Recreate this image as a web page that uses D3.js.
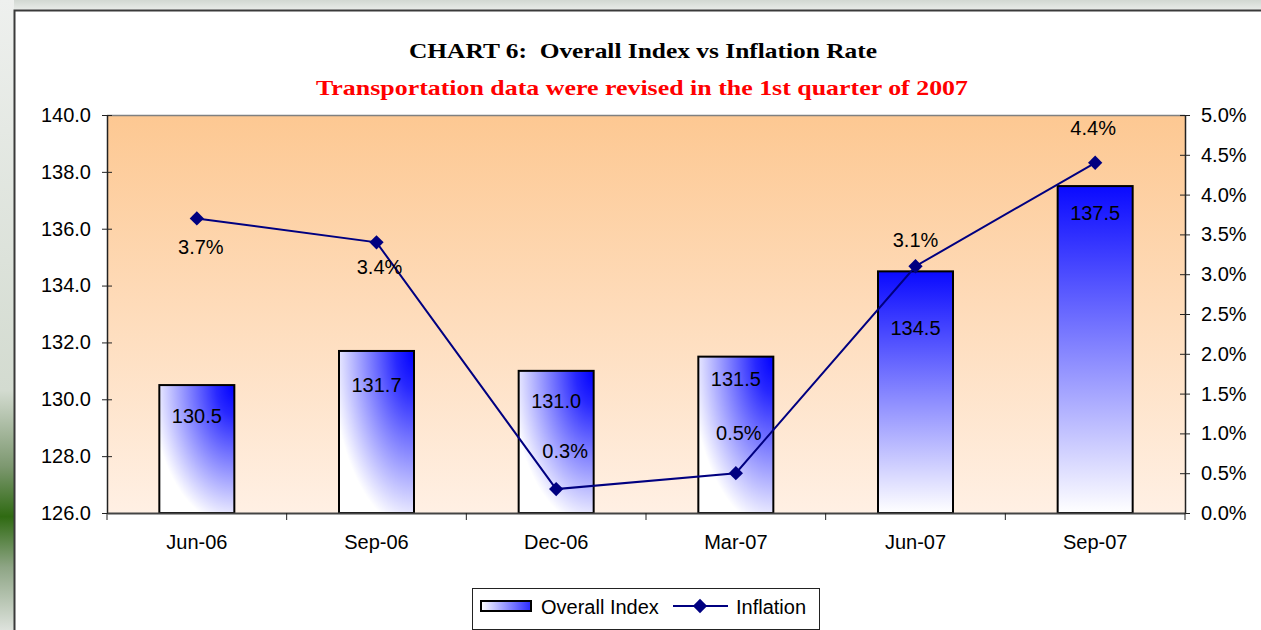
<!DOCTYPE html>
<meta charset="utf-8">
<title>Chart 6</title>
<style>

body {
  margin: 0;
  font: 20px "Liberation Sans", Arial, sans-serif;
  background: #fff;
}

</style>
<body>
</body>
<script src="https://d3js.org/d3.v7.min.js"></script>
<script>

// data
var quarters = ["Jun-06", "Sep-06", "Dec-06", "Mar-07", "Jun-07", "Sep-07"];
var overallIndex = [130.5, 131.7, 131.0, 131.5, 134.5, 137.5];
var inflation = [3.7, 3.4, 0.3, 0.5, 3.1, 4.4];
var indexTicks = [126, 128, 130, 132, 134, 136, 138, 140];
var rateTicks = [0, 0.5, 1, 1.5, 2, 2.5, 3, 3.5, 4, 4.5, 5];

// label nudges (px), the original labels were moved by hand
var indexLabelDy = [31, 34, 30, 22, 57, 27];
var rateLabelDy = [29, 25, -38, -40, -26, -35];
var rateLabelDx = [4, 3, 9, 3, 0, -2];

var width = 1261,
    height = 630;

var plot = {left: 107, right: 1185, top: 115, bottom: 513};

var svg = d3.select("body").append("svg")
    .attr("width", width)
    .attr("height", height);

var defs = svg.append("defs");

// backdrop of the slide
var side = defs.append("linearGradient").attr("id", "side")
    .attr("x1", 0).attr("y1", 0).attr("x2", 0).attr("y2", 1);
side.append("stop").attr("offset", 0).attr("stop-color", "#eef0ee");
side.append("stop").attr("offset", 0.62).attr("stop-color", "#d3dbd0");
side.append("stop").attr("offset", 0.74).attr("stop-color", "#7d9870");
side.append("stop").attr("offset", 0.82).attr("stop-color", "#2f6a12");
side.append("stop").attr("offset", 0.9).attr("stop-color", "#8ea585");
side.append("stop").attr("offset", 1).attr("stop-color", "#dde2dc");

var topband = defs.append("linearGradient").attr("id", "topband")
    .attr("x1", 0).attr("y1", 0).attr("x2", 0).attr("y2", 1);
topband.append("stop").attr("offset", 0).attr("stop-color", "#d2d8d2");
topband.append("stop").attr("offset", 1).attr("stop-color", "#e9ece9");

var peach = defs.append("linearGradient").attr("id", "peach")
    .attr("x1", 0).attr("y1", 0).attr("x2", 0).attr("y2", 1);
peach.append("stop").attr("offset", 0).attr("stop-color", "#fdc892");
peach.append("stop").attr("offset", 1).attr("stop-color", "#fff0e4");

// corner gradient for the first bars
var corner = defs.append("radialGradient").attr("id", "corner")
    .attr("cx", 1).attr("cy", 0).attr("r", 1.1);
corner.append("stop").attr("offset", 0).attr("stop-color", "#0000ff");
corner.append("stop").attr("offset", 0.22).attr("stop-color", "#2828ff");
corner.append("stop").attr("offset", 1).attr("stop-color", "#ffffff");

// top-down gradient for the last bars
var vert = defs.append("linearGradient").attr("id", "vert")
    .attr("x1", 0).attr("y1", 0).attr("x2", 0).attr("y2", 1);
vert.append("stop").attr("offset", 0).attr("stop-color", "#0a0aff");
vert.append("stop").attr("offset", 1).attr("stop-color", "#ffffff");

var swatch = defs.append("linearGradient").attr("id", "swatch")
    .attr("x1", 0).attr("y1", 0).attr("x2", 1).attr("y2", 0);
swatch.append("stop").attr("offset", 0).attr("stop-color", "#ffffff");
swatch.append("stop").attr("offset", 1).attr("stop-color", "#2a2aff");

svg.append("rect").attr("width", 14).attr("height", height).attr("fill", "url(#side)");
svg.append("rect").attr("x", 14).attr("width", width - 14).attr("height", 10).attr("fill", "url(#topband)");
svg.append("path")
    .attr("d", "M14.5," + height + "V10.5H" + width)
    .attr("fill", "none")
    .attr("stroke", "#3a3a3a")
    .attr("stroke-width", 2);

// titles
svg.append("text")
    .attr("x", 643).attr("y", 58)
    .attr("text-anchor", "middle")
    .attr("textLength", 468)
    .attr("lengthAdjust", "spacingAndGlyphs")
    .style("font", "bold 22px 'Liberation Serif', 'DejaVu Serif', serif")
    .style("white-space", "pre")
    .text("CHART 6:  Overall Index vs Inflation Rate");

svg.append("text")
    .attr("x", 642).attr("y", 95)
    .attr("text-anchor", "middle")
    .attr("textLength", 652)
    .attr("lengthAdjust", "spacingAndGlyphs")
    .attr("fill", "#ff0000")
    .style("font", "bold 22px 'Liberation Serif', 'DejaVu Serif', serif")
    .text("Transportation data were revised in the 1st quarter of 2007");

// scales
var x = d3.scaleBand()
    .domain(quarters)
    .range([plot.left, plot.right]);

var yIndex = d3.scaleLinear()
    .domain([126, 140])
    .range([plot.bottom, plot.top]);

var yRate = d3.scaleLinear()
    .domain([0, 5])
    .range([plot.bottom, plot.top]);

svg.append("rect")
    .attr("x", plot.left).attr("y", plot.top)
    .attr("width", plot.right - plot.left)
    .attr("height", plot.bottom - plot.top)
    .attr("fill", "url(#peach)");

svg.append("line")
    .attr("x1", plot.left).attr("x2", plot.right)
    .attr("y1", plot.top + 0.5).attr("y2", plot.top + 0.5)
    .attr("stroke", "#808080")
    .attr("stroke-width", 1.5);

// bars
var barW = 75;
svg.selectAll("rect.bar")
    .data(overallIndex)
  .enter().append("rect")
    .attr("class", "bar")
    .attr("x", function(d, i) { return x(quarters[i]) + x.bandwidth() / 2 - barW / 2; })
    .attr("y", function(d) { return yIndex(d); })
    .attr("width", barW)
    .attr("height", function(d) { return plot.bottom - yIndex(d); })
    .attr("fill", function(d, i) { return i >= 4 ? "url(#vert)" : "url(#corner)"; })
    .attr("stroke", "#000")
    .attr("stroke-width", 2);

svg.selectAll("text.ilab")
    .data(overallIndex)
  .enter().append("text")
    .attr("class", "ilab")
    .attr("x", function(d, i) { return x(quarters[i]) + x.bandwidth() / 2; })
    .attr("y", function(d, i) { return yIndex(d) + indexLabelDy[i]; })
    .attr("dy", "0.35em")
    .attr("text-anchor", "middle")
    .text(function(d) { return d.toFixed(1); });

// axes
var leftAxis = d3.axisLeft(yIndex)
    .tickValues(indexTicks)
    .tickFormat(d3.format(".1f"))
    .tickSizeInner(5)
    .tickSizeOuter(0)
    .tickPadding(11);

var gl = svg.append("g")
    .attr("transform", "translate(" + plot.left + ",0)")
    .call(leftAxis);

var rightAxis = d3.axisRight(yRate)
    .tickValues(rateTicks)
    .tickFormat(function(d) { return d.toFixed(1) + "%"; })
    .tickSizeInner(5)
    .tickSizeOuter(0)
    .tickPadding(11);

var gr = svg.append("g")
    .attr("transform", "translate(" + plot.right + ",0)")
    .call(rightAxis);

[gl, gr].forEach(function(g) {
  g.select(".domain").attr("stroke", "#222").attr("stroke-width", 1.5);
  g.selectAll(".tick line").attr("stroke", "#222");
  g.selectAll("text")
      .attr("fill", "#000")
      .style("font", "20px 'Liberation Sans', Arial, sans-serif");
});
// ticks cross the axis line
gl.selectAll(".tick line").attr("x1", 5);
gr.selectAll(".tick line").attr("x1", -5);

var gx = svg.append("g")
    .attr("transform", "translate(0," + plot.bottom + ")")
    .call(d3.axisBottom(x).tickSize(0).tickPadding(22));
gx.select(".domain").attr("stroke", "#444").attr("stroke-width", 2);
gx.selectAll("text")
    .attr("fill", "#000")
    .style("font", "20px 'Liberation Sans', Arial, sans-serif");

// category dividers below the axis
svg.selectAll("line.cat")
    .data(quarters.concat(["end"]))
  .enter().append("line")
    .attr("class", "cat")
    .attr("x1", function(d, i) { return plot.left + i * x.step(); })
    .attr("x2", function(d, i) { return plot.left + i * x.step(); })
    .attr("y1", plot.bottom)
    .attr("y2", plot.bottom + 7)
    .attr("stroke", "#222");

// inflation line
var line = d3.line()
    .x(function(d, i) { return x(quarters[i]) + x.bandwidth() / 2; })
    .y(function(d) { return yRate(d); });

svg.append("path")
    .datum(inflation)
    .attr("d", line)
    .attr("fill", "none")
    .attr("stroke", "#000080")
    .attr("stroke-width", 2);

var diamond = d3.symbol().type(d3.symbolDiamond2).size(130);

svg.selectAll("path.mark")
    .data(inflation)
  .enter().append("path")
    .attr("class", "mark")
    .attr("transform", function(d, i) {
      return "translate(" + (x(quarters[i]) + x.bandwidth() / 2) + "," + yRate(d) + ")";
    })
    .attr("d", diamond)
    .attr("fill", "#000080");

svg.selectAll("text.rlab")
    .data(inflation)
  .enter().append("text")
    .attr("class", "rlab")
    .attr("x", function(d, i) { return x(quarters[i]) + x.bandwidth() / 2 + rateLabelDx[i]; })
    .attr("y", function(d, i) { return yRate(d) + rateLabelDy[i]; })
    .attr("dy", "0.35em")
    .attr("text-anchor", "middle")
    .text(function(d) { return d.toFixed(1) + "%"; });

// legend
var lg = svg.append("g").attr("transform", "translate(472,588)");
lg.append("rect")
    .attr("x", 0.5).attr("y", 0.5)
    .attr("width", 347).attr("height", 41)
    .attr("fill", "#fff")
    .attr("stroke", "#222");
lg.append("rect")
    .attr("x", 9).attr("y", 13)
    .attr("width", 50).attr("height", 10)
    .attr("fill", "url(#swatch)")
    .attr("stroke", "#000")
    .attr("stroke-width", 2);
lg.append("text").attr("x", 69).attr("y", 26).text("Overall Index");
lg.append("line")
    .attr("x1", 201).attr("x2", 256)
    .attr("y1", 18).attr("y2", 18)
    .attr("stroke", "#000080")
    .attr("stroke-width", 2);
lg.append("path")
    .attr("transform", "translate(228,18)")
    .attr("d", diamond)
    .attr("fill", "#000080");
lg.append("text").attr("x", 264).attr("y", 26).text("Inflation");

</script>
